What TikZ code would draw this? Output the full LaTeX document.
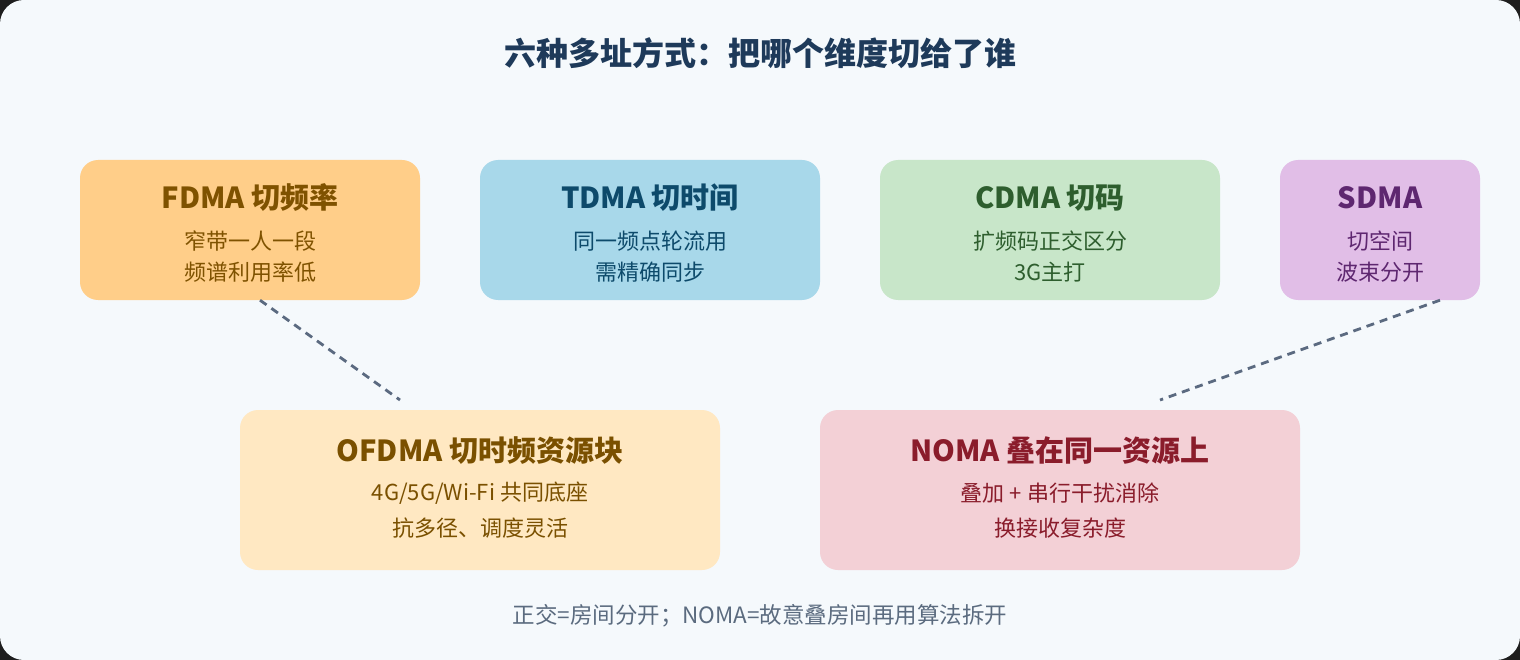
\documentclass[tikz,border=0pt]{standalone}
\usepackage{fontspec}
\setmainfont{Noto Sans CJK SC}
\usetikzlibrary{calc}
\definecolor{outer}{HTML}{1E1E1E}
\definecolor{bgc}{HTML}{F5F9FC}
\definecolor{titlec}{HTML}{1E3A5A}
\definecolor{footc}{HTML}{5B6B7F}
\definecolor{linec}{HTML}{5B6A80}
\definecolor{fdfill}{HTML}{FFCE89}
\definecolor{fdtext}{HTML}{7F5200}
\definecolor{tdfill}{HTML}{A8D8EA}
\definecolor{tdtext}{HTML}{0D4A6B}
\definecolor{cdfill}{HTML}{C8E6C9}
\definecolor{cdtext}{HTML}{2E5E2E}
\definecolor{sdfill}{HTML}{E1BEE7}
\definecolor{sdtext}{HTML}{5E2770}
\definecolor{offill}{HTML}{FFE8C2}
\definecolor{oftext}{HTML}{7A5000}
\definecolor{nofill}{HTML}{F3D0D6}
\definecolor{notext}{HTML}{8A1C2B}
\begin{document}
\begin{tikzpicture}[x=1pt,y=-1pt,
  box/.style={rounded corners=18pt, inner sep=0pt, draw=none},
  ttl/.style={inner sep=0pt, font=\fontsize{29}{34}\selectfont\bfseries},
  txt/.style={inner sep=0pt, font=\fontsize{22}{26}\selectfont},
  conn/.style={draw=linec, line width=2.8pt, dash pattern=on 8pt off 6pt}]
\fill[outer] (0,0) rectangle (1520,660);
\fill[bgc, rounded corners=24pt] (0,0) rectangle (1520,660);
\useasboundingbox (0,0) rectangle (1520,660);
% title
\node[inner sep=0pt, text=titlec, font=\fontsize{32}{38}\selectfont\bfseries] (title) at (760,53) {六种多址方式：把哪个维度切给了谁};
% top row
\node[box, fill=fdfill, minimum width=340pt, minimum height=140pt] (fdma) at (250,230) {};
\node[ttl, text=fdtext] (fdmaT) at (250,198) {FDMA 切频率};
\node[txt, text=fdtext] (fdmaA) at (250,241) {窄带一人一段};
\node[txt, text=fdtext] (fdmaB) at (250,272) {频谱利用率低};
\node[box, fill=tdfill, minimum width=340pt, minimum height=140pt] (tdma) at (650,230) {};
\node[ttl, text=tdtext] (tdmaT) at (650,198) {TDMA 切时间};
\node[txt, text=tdtext] (tdmaA) at (650,241) {同一频点轮流用};
\node[txt, text=tdtext] (tdmaB) at (650,272) {需精确同步};
\node[box, fill=cdfill, minimum width=340pt, minimum height=140pt] (cdma) at (1050,230) {};
\node[ttl, text=cdtext] (cdmaT) at (1050,198) {CDMA 切码};
\node[txt, text=cdtext] (cdmaA) at (1050,241) {扩频码正交区分};
\node[txt, text=cdtext] (cdmaB) at (1050,272) {3G主打};
\node[box, fill=sdfill, minimum width=200pt, minimum height=140pt] (sdma) at (1380,230) {};
\node[ttl, text=sdtext] (sdmaT) at (1380,198) {SDMA};
\node[txt, text=sdtext] (sdmaA) at (1380,241) {切空间};
\node[txt, text=sdtext] (sdmaB) at (1380,272) {波束分开};
% bottom row
\node[box, fill=offill, minimum width=480pt, minimum height=160pt] (ofdma) at (480,490) {};
\node[ttl, text=oftext] (ofdmaT) at (480,451) {OFDMA 切时频资源块};
\node[txt, text=oftext] (ofdmaA) at (480,493) {4G/5G/Wi-Fi 共同底座};
\node[txt, text=oftext] (ofdmaB) at (480,528) {抗多径、调度灵活};
\node[box, fill=nofill, minimum width=480pt, minimum height=160pt] (noma) at (1060,490) {};
\node[ttl, text=notext] (nomaT) at (1060,451) {NOMA 叠在同一资源上};
\node[txt, text=notext] (nomaA) at (1060,493) {叠加 + 串行干扰消除};
\node[txt, text=notext] (nomaB) at (1060,528) {换接收复杂度};
% connectors
\coordinate (e1) at (400,400);
\coordinate (e2) at (1160,400);
\draw[conn] ($(fdma.south)+(10,0)$) -- (e1);
\draw[conn] ($(sdma.south)+(60,0)$) -- (e2);
% footer
\node[inner sep=0pt, text=footc, font=\fontsize{22.5}{26}\selectfont] (foot) at (760,616) {正交=房间分开；NOMA=故意叠房间再用算法拆开};
\end{tikzpicture}
\end{document}
